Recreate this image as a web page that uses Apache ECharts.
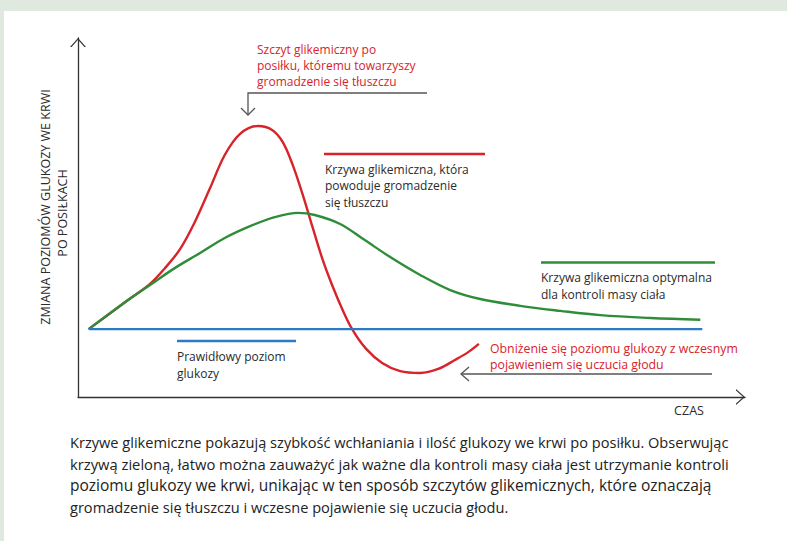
<!DOCTYPE html>
<html><head><meta charset="utf-8">
<script src="https://cdn.jsdelivr.net/npm/echarts@6/dist/echarts.min.js"></script>
<style>html,body{margin:0;padding:0;background:#fff}#c{width:787px;height:541px}</style>
</head><body><div id="c"></div>
<script>
// ---- data (time units 0..100, glucose-change units 0..100) ----
const redCurve = [[1.6,18.9],[7.5,27.0],[10.8,31.5],[13.0,35.8],[15.3,41.2],[17.5,48.7],[19.8,58.2],[22.0,67.4],[24.3,73.3],[27.0,75.5],[29.1,74.4],[30.7,71.0],[32.2,64.6],[33.7,56.3],[35.2,47.1],[36.6,38.7],[37.8,32.6],[39.4,25.4],[41.1,18.9],[43.2,13.4],[45.6,9.5],[48.3,7.2],[51.3,6.7],[54.0,7.8],[56.5,10.3],[58.5,12.5],[60.1,14.8]];
const greenCurve = [[1.6,18.9],[7.5,27.0],[10.8,31.2],[14.5,35.9],[18.3,40.1],[22.0,44.3],[25.8,47.6],[29.5,50.1],[33.0,51.3],[35.5,50.7],[39.3,48.2],[43.0,43.7],[46.8,39.0],[51.3,34.0],[55.8,29.8],[60.3,27.3],[66.3,25.4],[72.3,24.0],[78.3,22.8],[85.8,22.0],[93.3,21.5]];
const blueLevel = [[1.6,18.9],[93.6,18.9]];
const yTitle = ['ZMIANA POZIOMÓW GLUKOZY WE KRWI', 'PO POSIŁKACH'];
const xTitle = 'CZAS';
const peakNote = ['Szczyt glikemiczny po', 'posiłku, któremu towarzyszy', 'gromadzenie się tłuszczu'];
const redNote = ['Krzywa glikemiczna, która', 'powoduje gromadzenie', 'się tłuszczu'];
const greenNote = ['Krzywa glikemiczna optymalna', 'dla kontroli masy ciała'];
const blueNote = ['Prawidłowy poziom', 'glukozy'];
const dropNote = ['Obniżenie się poziomu glukozy z wczesnym', 'pojawieniem się uczucia głodu'];
const caption = [
  'Krzywe glikemiczne pokazują szybkość wchłaniania i ilość glukozy we krwi po posiłku. Obserwując',
  'krzywą zieloną, łatwo można zauważyć jak ważne dla kontroli masy ciała jest utrzymanie kontroli',
  'poziomu glukozy we krwi, unikając w ten sposób szczytów glikemicznych, które oznaczają',
  'gromadzenie się tłuszczu i wczesne pojawienie się uczucia głodu.'
];

// ---- styles ----
const FONT = '"Open Sans","Noto Sans",sans-serif';
const RED = '#d8232a', GREEN = '#2f8d3a', BLUE = '#2a7bc6', DARK = '#2b2b2b', GRAY = '#555';
const measureCtx = document.createElement('canvas').getContext('2d');
function textWidth(t, font) { measureCtx.font = font; return measureCtx.measureText(t).width; }

const graphics = [];
graphics.push({type:'rect', shape:{x:0,y:0,width:787,height:11}, style:{fill:'#dfe9df'}, silent:true});
graphics.push({type:'rect', shape:{x:0,y:0,width:4,height:541}, style:{fill:'#dfe9df'}, silent:true});

function block(lines, x, firstCenter, lh, color, size) {
  graphics.push({type:'text', x:x, y:firstCenter - lh/2,
    style:{text:lines.join('\n'), font:size + 'px ' + FONT, lineHeight:lh, fill:color, verticalAlign:'top', align:'left'}});
}
block(peakNote, 257, 49.5, 16, RED, 12);
block(redNote, 325, 169, 16.5, DARK, 12);
block(greenNote, 541, 277, 17, DARK, 12);
block(blueNote, 177, 356, 17, DARK, 12);
block(dropNote, 490, 348, 16.5, RED, 12.3);
graphics.push({type:'text', x:689, y:410, style:{text:xTitle, font:'12.5px ' + FONT, fill:DARK, align:'center', verticalAlign:'middle'}});
graphics.push({type:'text', x:45, y:207, rotation:Math.PI/2, style:{text:yTitle[0], font:'12.5px ' + FONT, fill:DARK, align:'center', verticalAlign:'middle'}});
graphics.push({type:'text', x:62, y:213, rotation:Math.PI/2, style:{text:yTitle[1], font:'12.5px ' + FONT, fill:DARK, align:'center', verticalAlign:'middle'}});

// caption: justified lines approximated by fitting the font size to the column width
const capWidth = 659;
let firstSize = 14;
caption.forEach((t, i) => {
  let size;
  if (i < caption.length - 1) {
    size = 14 * capWidth / textWidth(t, '14px ' + FONT);
    size = Math.max(13, Math.min(15.5, size));
    if (i === 0) firstSize = size;
  } else {
    size = firstSize;
  }
  graphics.push({type:'text', x:70, y:442 + i*21.6,
    style:{text:t, font:size.toFixed(2) + 'px ' + FONT, fill:'#222', align:'left', verticalAlign:'middle'}});
});

// key lines
graphics.push({type:'line', shape:{x1:324,y1:154,x2:485,y2:154}, style:{stroke:RED, lineWidth:2.5}});
graphics.push({type:'line', shape:{x1:541,y1:262.5,x2:715,y2:262.5}, style:{stroke:GREEN, lineWidth:2.5}});
graphics.push({type:'line', shape:{x1:177,y1:341,x2:296,y2:341}, style:{stroke:BLUE, lineWidth:2.5}});

// pointer arrows
graphics.push({type:'polyline', shape:{points:[[427,93],[248,93],[248,115]]}, style:{stroke:GRAY, lineWidth:1.3, fill:null}});
graphics.push({type:'polyline', shape:{points:[[241,108],[248,115],[255,108]]}, style:{stroke:GRAY, lineWidth:1.3, fill:null}});
graphics.push({type:'polyline', shape:{points:[[712,374],[461,374]]}, style:{stroke:GRAY, lineWidth:1.3, fill:null}});
graphics.push({type:'polyline', shape:{points:[[469,367],[461,374],[469,381]]}, style:{stroke:GRAY, lineWidth:1.3, fill:null}});

const chevron = 'path://M0,9 L8,0 L16,9 L14.4,9 L8,1.8 L1.6,9 Z';
const axisLine = {show:true, symbol:['none', chevron], symbolSize:[16,9], symbolOffset:[0,-4.5], lineStyle:{color:'#333', width:1.3}};

const chart = echarts.init(document.getElementById('c'), null, {renderer:'svg'});
chart.setOption({
  animation:false,
  backgroundColor:'#fff',
  grid:{left:78, right:42, top:38, bottom:144},
  xAxis:{type:'value', min:0, max:100, axisLine:axisLine, axisTick:{show:false}, axisLabel:{show:false}, splitLine:{show:false}},
  yAxis:{type:'value', min:0, max:100, axisLine:axisLine, axisTick:{show:false}, axisLabel:{show:false}, splitLine:{show:false}},
  series:[
    {type:'line', data:redCurve, smooth:0.35, showSymbol:false, z:2, lineStyle:{color:RED, width:2.4}},
    {type:'line', data:greenCurve, smooth:0.35, showSymbol:false, z:3, lineStyle:{color:GREEN, width:2.4}},
    {type:'line', data:blueLevel, showSymbol:false, z:4, lineStyle:{color:BLUE, width:2.4}}
  ],
  graphic:graphics
});
</script></body></html>
